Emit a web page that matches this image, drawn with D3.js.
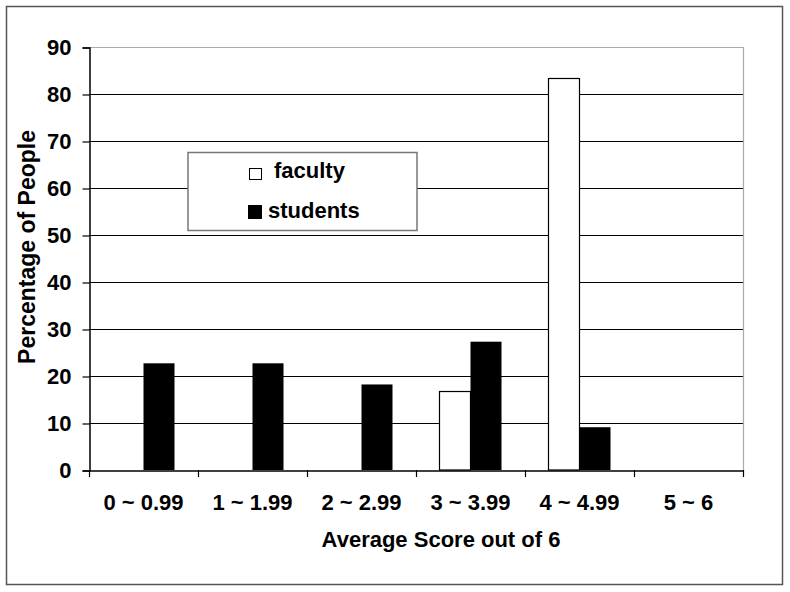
<!DOCTYPE html>
<html><head><meta charset="utf-8">
<script src="https://cdn.jsdelivr.net/npm/d3@7"></script>
<style>body{margin:0;background:#fff}svg{display:block}text{font-family:"Liberation Sans",Arial,sans-serif;font-weight:bold;fill:#000}</style>
</head><body>
<script>
const categories = ["0 ~ 0.99","1 ~ 1.99","2 ~ 2.99","3 ~ 3.99","4 ~ 4.99","5 ~ 6"];
const seriesNames = ["faculty","students"];
const faculty = [0,0,0,16.7,83.3,0];
const students = [22.7,22.7,18.2,27.3,9.1,0];
const yTicks = [0,10,20,30,40,50,60,70,80,90];

const W=790,H=592;
const FONT="'Liberation Sans',Arial,sans-serif";
const svg=d3.select("body").append("svg").attr("width",W).attr("height",H);
svg.append("rect").attr("x",6.5).attr("y",6.5).attr("width",776).attr("height",578)
  .attr("fill","none").attr("stroke","#555").attr("stroke-width",1.5);

const L=89,R=743,T=47,B=470;
const x=d3.scaleBand().domain(categories).range([L,R]);
const xs=d3.scaleBand().domain(seriesNames).range([0,62]);
const y=d3.scaleLinear().domain([0,90]).range([B,T]);

// gridlines
svg.append("g").selectAll("line").data(yTicks.filter(d=>d>0)).join("line")
  .attr("x1",L).attr("x2",R).attr("y1",d=>y(d)+0.5).attr("y2",d=>y(d)+0.5)
  .attr("stroke",d=>d===90?"#aaa":"#000").attr("stroke-width",1.2);
svg.append("line").attr("x1",R+0.5).attr("x2",R+0.5).attr("y1",T).attr("y2",B)
  .attr("stroke","#aaa").attr("stroke-width",1.2);

const data=categories.map((c,i)=>({c,vals:[{s:"faculty",v:faculty[i]},{s:"students",v:students[i]}]}));
const g=svg.append("g").selectAll("g").data(data).join("g")
  .attr("transform",d=>`translate(${x(d.c)+(x.bandwidth()-62)/2},0)`);
g.selectAll("rect").data(d=>d.vals.filter(e=>e.v>0)).join("rect")
  .attr("x",e=>xs(e.s)).attr("width",xs.bandwidth())
  .attr("y",e=>y(e.v)).attr("height",e=>B-y(e.v))
  .attr("fill",e=>e.s==="faculty"?"#fff":"#000")
  .attr("stroke",e=>e.s==="faculty"?"#000":"none").attr("stroke-width",1.2);

// y axis
const ya=svg.append("g").attr("transform",`translate(${L+0.5},0.5)`)
  .call(d3.axisLeft(y).tickValues(yTicks).tickSize(7).tickPadding(11));
ya.select(".domain").attr("stroke","#000").attr("stroke-width",1.5);
ya.selectAll(".tick line").attr("stroke","#000").attr("stroke-width",1.2);
ya.selectAll("text").attr("font-size",null).attr("font-family",null)
  .style("font-size","22px").style("font-family",FONT).style("font-weight","bold");

// x axis
const xa=svg.append("g").attr("transform",`translate(0,${B+0.5})`)
  .call(d3.axisBottom(x).tickSize(0).tickPadding(24));
xa.select(".domain").attr("stroke","#000").attr("stroke-width",1.5);
xa.selectAll("text").attr("font-size",null).attr("font-family",null)
  .style("font-size","22px").style("font-family",FONT).style("font-weight","bold");
svg.append("g").selectAll("line").data(d3.range(categories.length+1)).join("line")
  .attr("x1",i=>L+i*x.step()+0.5).attr("x2",i=>L+i*x.step()+0.5)
  .attr("y1",B).attr("y2",B+7).attr("stroke","#000").attr("stroke-width",1.2);

// titles
svg.append("text").attr("x",441).attr("y",547).attr("text-anchor","middle")
  .style("font-size","22px").text("Average Score out of 6");
svg.append("text").attr("transform","translate(35,247) rotate(-90)").attr("text-anchor","middle")
  .style("font-size","23px").text("Percentage of People");

// legend
const lg=svg.append("g");
lg.append("rect").attr("x",188).attr("y",152.5).attr("width",229).attr("height",78)
  .attr("fill","#fff").attr("stroke","#777").attr("stroke-width",1.5);
seriesNames.forEach((s,i)=>{
  const by=[178,218][i];
  if(s==="faculty"){
    lg.append("rect").attr("x",249.5).attr("y",168.5).attr("width",12).attr("height",11)
      .attr("fill","#fff").attr("stroke","#000").attr("stroke-width",1);
  } else {
    lg.append("rect").attr("x",248).attr("y",205).attr("width",14).attr("height",14).attr("fill","#000");
  }
  lg.append("text").attr("x",s==="faculty"?274:268).attr("y",by).style("font-size","22px").text(s);
});
</script>
</body></html>
